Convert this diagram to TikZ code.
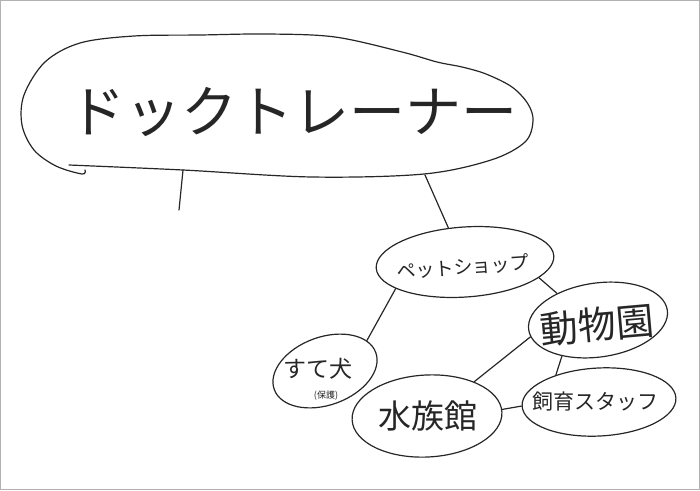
\documentclass[tikz,border=0pt]{standalone}
\usepackage{fontspec}
\newfontfamily\jp{Noto Sans CJK JP}
\usetikzlibrary{shapes.geometric}
\begin{document}
\begin{tikzpicture}[x=1pt,y=-1pt,
  ink/.style={line width=1.2pt, draw=black!85, line cap=round, line join=round},
  bub/.style={ink, ellipse, inner sep=0pt},
  lbl/.style={font=\jp, text=black!85, inner sep=0pt}]
\useasboundingbox (0,0) rectangle (700,490);
\draw[gray!60, line width=1pt] (0.5,0.5) rectangle (699.5,489.5);

% main blob
\draw[ink] plot[smooth, tension=0.55] coordinates {
  (69,165) (183,170) (312,177) (424,174) (491,160) (525,142) (533,121)
  (528,104) (512,87) (486,74) (462,67) (437,62) (402,52) (335,37) (268,34)
  (200,35) (134,36) (80,43) (45,62) (24,95) (22,125) (34,150) (56,166) (82,174) (85,170)};
\node[lbl, font=\jp\fontsize{56}{60}\selectfont] (dog) at (293,112) {ドックトレーナー};
\coordinate (dogL) at (183,170);
\coordinate (stub) at (179,210);
\coordinate (dogR) at (425,175);

% bubbles
\node[bub, minimum width=178pt, minimum height=70pt, rotate=4] (pet) at (465,262) {};
\node[lbl, font=\jp\fontsize{19}{20}\selectfont, rotate=4] (pett) at (463,267) {ペットショップ};

\node[bub, minimum width=140pt, minimum height=74pt, rotate=8] (zoo) at (598,320) {};
\node[lbl, font=\jp\fontsize{38}{40}\selectfont, rotate=5] (zoot) at (597,325) {動物園};

\node[bub, minimum width=154pt, minimum height=68pt, rotate=3] (staff) at (599,402) {};
\node[lbl, font=\jp\fontsize{21}{22}\selectfont] (stafft) at (595,402) {飼育スタッフ};

\node[bub, minimum width=150pt, minimum height=82pt, rotate=3] (aqua) at (427,416) {};
\node[lbl, font=\jp\fontsize{33}{34}\selectfont] (aquat) at (428,416) {水族館};

\node[bub, minimum width=108pt, minimum height=68pt, rotate=20] (sute) at (325,371) {};
\node[lbl, font=\jp\fontsize{23}{24}\selectfont] (sutet) at (318,369) {すて犬};
\node[lbl, font=\jp\fontsize{9}{10}\selectfont] (hogo) at (326,396) {(保護)};

% connectors
\draw[ink] (dogL) -- (stub);
\draw[ink] (dogR) -- (pet.112);
\draw[ink] (pet.197) -- (sute.16);
\draw[ink] (pet.-16) -- (zoo.139);
\draw[ink] (zoo.186) -- (aqua.33);
\draw[ink] (zoo.217) -- (staff.145);
\draw[ink] (aqua.2) -- (staff.180);
\end{tikzpicture}
\end{document}
